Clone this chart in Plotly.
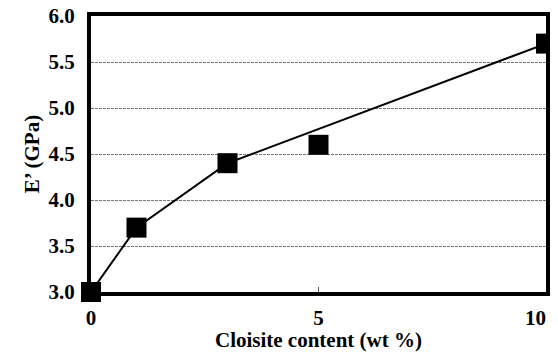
import plotly.graph_objects as go

# Data
cloisite_wt = [0, 1, 3, 5, 10]
modulus_gpa = [3.0, 3.7, 4.4, 4.6, 5.7]
trend_x = [0, 1, 3, 10]
trend_y = [3.0, 3.7, 4.4, 5.7]
x_ticks = [0, 5, 10]
x_labels = ["0", "5", "10\u00a0\u00a0\u00a0\u00a0"]
y_ticks = [3.0, 3.5, 4.0, 4.5, 5.0, 5.5, 6.0]

FONT = "Liberation Serif"

fig = go.Figure()
fig.add_trace(go.Scatter(x=trend_x, y=trend_y, mode="lines",
                         line=dict(color="black", width=2), cliponaxis=False,
                         showlegend=False, hoverinfo="skip"))
fig.add_trace(go.Scatter(x=cloisite_wt, y=modulus_gpa, mode="markers",
                         marker=dict(symbol="square", size=20, color="black"),
                         cliponaxis=False, showlegend=False))

fig.update_layout(
    width=542, height=344,
    margin=dict(l=83, r=4, t=8, b=60),
    plot_bgcolor="white", paper_bgcolor="white",
    font=dict(family=FONT, color="black"),
    xaxis=dict(range=[0, 10], tickvals=x_ticks,
               ticktext=[f"<b>{t}</b>" for t in x_labels],
               showgrid=False, zeroline=False, automargin=False,
               ticklabeloverflow="allow", ticklabelstandoff=4,
               showline=True, mirror=True, linecolor="black", linewidth=4,
               ticks="inside", ticklen=5, tickwidth=1, tickcolor="#555",
               tickfont=dict(family=FONT, size=21, color="black"),
               title=dict(text="<b>Cloisite content (wt %)</b>", standoff=13,
                          font=dict(family=FONT, size=21, color="black"))),
    yaxis=dict(range=[3.0, 6.0], tickvals=y_ticks,
               ticktext=[f"<b>{v:.1f}</b>" for v in y_ticks],
               showgrid=True, gridcolor="#777", griddash="3px,1px", gridwidth=1,
               zeroline=False, showline=True, mirror=True, linecolor="black",
               linewidth=4, ticks="outside", ticklen=8,
               tickcolor="rgba(0,0,0,0)", automargin=False,
               ticklabeloverflow="allow",
               tickfont=dict(family=FONT, size=21, color="black"),
               title=dict(text="<b>E’ (GPa)</b>", standoff=4,
                          font=dict(family=FONT, size=21, color="black"))),
)

fig.write_html("out.html")
